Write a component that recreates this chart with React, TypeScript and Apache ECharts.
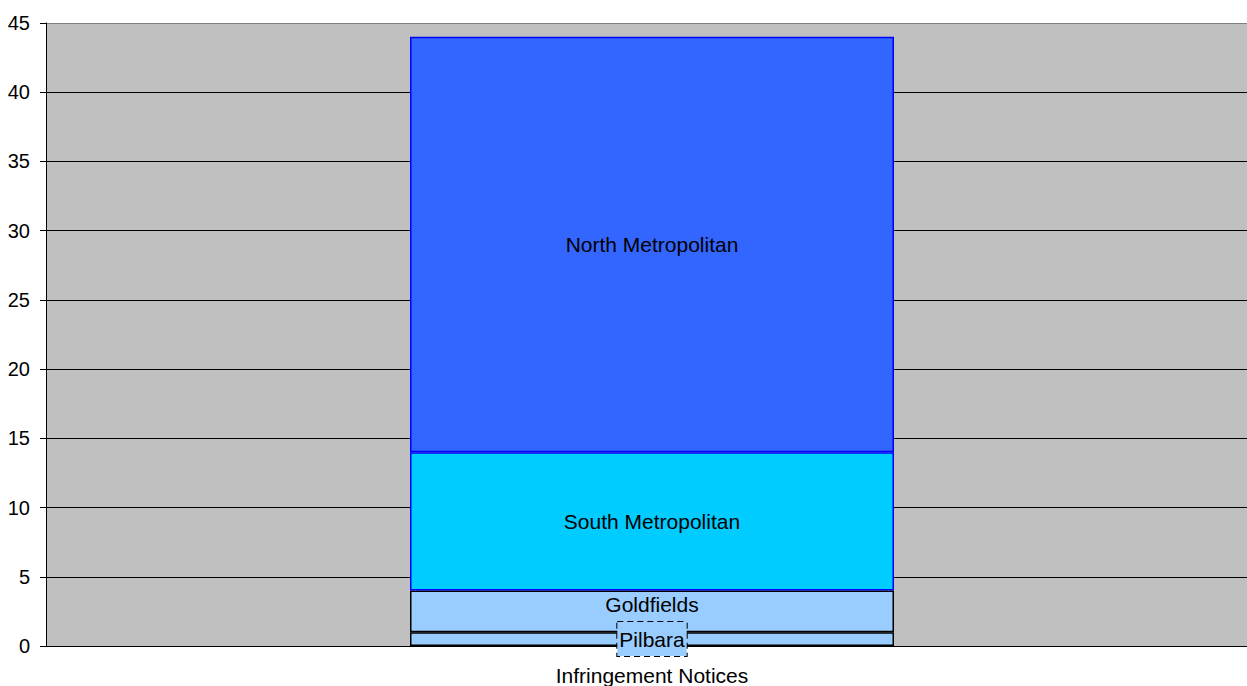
import React, { useEffect, useRef } from "react";
import * as echarts from "echarts";

// Infringement notices by region, stacked from the bottom up
const categories = ["Infringement Notices"];
const regions = ["Pilbara", "Goldfields", "South Metropolitan", "North Metropolitan"];
const pilbara = [1];
const goldfields = [3];
const southMetro = [10];
const northMetro = [30];
const yTicks = { min: 0, max: 45, interval: 5 };

const FONT = "Liberation Sans, Arial, Helvetica, sans-serif";

export default function App() {
  const ref = useRef<HTMLDivElement>(null);

  useEffect(() => {
    if (!ref.current) return;
    const chart = echarts.init(ref.current, null, { renderer: "svg" });

    const valuesByRegion = [pilbara, goldfields, southMetro, northMetro];
    const fills = ["#99ccff", "#99ccff", "#00ccff", "#3366ff"];
    const borders = ["#000000", "#000000", "#0000ff", "#0000ff"];

    const series = regions.map((name, i) => {
      const label: any = {
        show: true,
        position: "inside",
        formatter: () => name,
        color: "#000",
        fontFamily: FONT,
        fontSize: 21,
      };
      if (name === "Goldfields") {
        label.offset = [0, -7];
      }
      if (name === "Pilbara") {
        label.backgroundColor = "#99ccff";
        label.borderColor = "#000";
        label.borderWidth = 1;
        label.borderType = [6, 4];
        label.padding = [7, 2, 6, 2];
      }
      return {
        name,
        type: "bar",
        stack: "total",
        barWidth: 484,
        data: valuesByRegion[i],
        itemStyle: { color: fills[i], borderColor: borders[i], borderWidth: 1.5 },
        label,
        z: i === 0 ? 5 : 2,
      };
    });

    // Gridlines are black; the top one doubles as the grey plot border
    const tickCount = (yTicks.max - yTicks.min) / yTicks.interval + 1;
    const gridColors = Array.from({ length: tickCount }, (_, k) =>
      k === tickCount - 1 ? "#808080" : "#000000"
    );

    chart.setOption({
      animation: false,
      backgroundColor: "#ffffff",
      grid: {
        left: 46,
        top: 23,
        bottom: 39,
        right: 0,
        show: true,
        backgroundColor: "#c0c0c0",
        borderColor: "#808080",
        borderWidth: 0,
      },
      xAxis: {
        type: "category",
        data: categories,
        axisLine: { show: true, lineStyle: { color: "#000", width: 1 } },
        axisTick: { show: false },
        axisLabel: { color: "#000", fontFamily: FONT, fontSize: 21, margin: 19 },
      },
      yAxis: {
        type: "value",
        min: yTicks.min,
        max: yTicks.max,
        interval: yTicks.interval,
        axisLine: { show: true, lineStyle: { color: "#000", width: 1 } },
        axisTick: { show: true, length: 6, lineStyle: { color: "#000" } },
        axisLabel: { color: "#000", fontFamily: FONT, fontSize: 20, margin: 16 },
        splitLine: { show: true, lineStyle: { color: gridColors, width: 1 } },
      },
      series,
    });

    return () => chart.dispose();
  }, []);

  // The plot runs a little past the right edge of the window
  return (
    <div
      ref={ref}
      style={{ position: "fixed", left: 0, top: 0, width: 1258, height: 686, background: "#fff" }}
    />
  );
}
